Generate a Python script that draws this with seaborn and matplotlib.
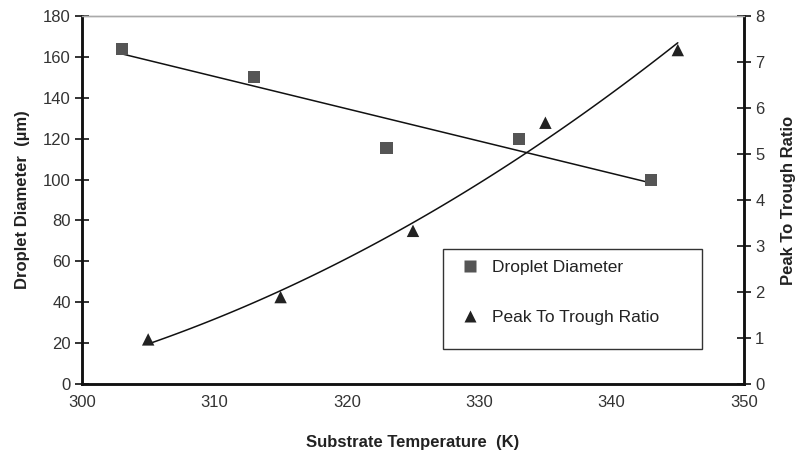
import numpy as np
import pandas as pd
import seaborn as sns
import matplotlib
matplotlib.use("Agg")
import matplotlib.pyplot as plt
from matplotlib.lines import Line2D
from matplotlib.patches import Rectangle

# data
temp_diameter = [303, 313, 323, 333, 343]
droplet_diameter = [164, 150, 115.5, 120, 100]
temp_ratio = [305, 315, 325, 335, 345]
peak_to_trough = [0.97, 1.89, 3.33, 5.68, 7.26]

x_ticks = [300, 310, 320, 330, 340, 350]
left_ticks = [0, 20, 40, 60, 80, 100, 120, 140, 160, 180]
right_ticks = [0, 1, 2, 3, 4, 5, 6, 7, 8]

df_d = pd.DataFrame({"T": temp_diameter, "D": droplet_diameter})
df_r = pd.DataFrame({"T": temp_ratio, "R": peak_to_trough})

sns.set_style("white")
plt.rcParams['font.family'] = ['Liberation Sans', 'DejaVu Sans']

fig = plt.figure(figsize=(8.02, 4.55), dpi=100)
ax = fig.add_axes([0.1022, 0.156, 0.8255, 0.8088])
ax2 = ax.twinx()

# droplet diameter: squares + linear trendline
sns.regplot(data=df_d, x="T", y="D", ax=ax, scatter=False, ci=None,
            line_kws={"color": "#111111", "lw": 1.1})
sns.scatterplot(data=df_d, x="T", y="D", ax=ax, marker="s", s=75,
                color="#555555", edgecolor="none", zorder=3)

# peak to trough ratio: triangles + 2nd order trendline
sns.regplot(data=df_r, x="T", y="R", ax=ax2, order=2, scatter=False, ci=None,
            line_kws={"color": "#111111", "lw": 1.1})
sns.scatterplot(data=df_r, x="T", y="R", ax=ax2, marker="^", s=80,
                color="#222222", edgecolor="none", zorder=3)

ax.set_xlim(300, 350)
ax.set_ylim(0, 180)
ax2.set_ylim(0, 8)
ax.set_xticks(x_ticks)
ax.set_yticks(left_ticks)
ax2.set_yticks(right_ticks)

tick_color = "#333333"
ax.tick_params(axis="both", direction="inout", length=10, width=1.2,
               labelsize=12, colors="#111111", labelcolor=tick_color, pad=3)
ax2.tick_params(axis="y", direction="inout", length=10, width=1.2,
                labelsize=12, colors="#111111", labelcolor=tick_color, pad=3)

for a in (ax, ax2):
    a.spines["top"].set_color("#aaaaaa")
    a.spines["top"].set_linewidth(1.0)
    for s in ("left", "bottom", "right"):
        a.spines[s].set_color("#111111")
        a.spines[s].set_linewidth(1.8)

ax.set_xlabel("Substrate Temperature  (K)", fontsize=12, fontweight="bold",
              color="#222222", labelpad=18)
ax.set_ylabel("Droplet Diameter  (\u00b5m)", fontsize=12, fontweight="bold",
              color="#222222", labelpad=9)
ax2.set_ylabel("Peak To Trough Ratio", fontsize=12, fontweight="bold",
               color="#222222", labelpad=12)

# legend: frame drawn separately since the entries sit high in the box
box_x0, box_y0, box_x1, box_y1 = 0.5453, 0.0951, 0.9366, 0.3668
ax2.add_patch(Rectangle((box_x0, box_y0), box_x1 - box_x0, box_y1 - box_y0,
                        transform=ax2.transAxes, facecolor="white",
                        edgecolor="#333333", lw=1.0, zorder=4))
handles = [
    Line2D([], [], marker="s", linestyle="none", markersize=8,
           markerfacecolor="#555555", markeredgecolor="none"),
    Line2D([], [], marker="^", linestyle="none", markersize=9,
           markerfacecolor="#222222", markeredgecolor="none"),
]
leg = ax2.legend(handles, ["Droplet Diameter", "Peak To Trough Ratio"],
                 loc="upper left", bbox_to_anchor=(box_x0, box_y1),
                 borderaxespad=0, frameon=False,
                 fontsize=12.5, labelspacing=1.98, borderpad=0.63,
                 handlelength=1.84, handletextpad=0.35, labelcolor="#222222")
leg.set_zorder(5)

fig.savefig("out.png", dpi=100)
